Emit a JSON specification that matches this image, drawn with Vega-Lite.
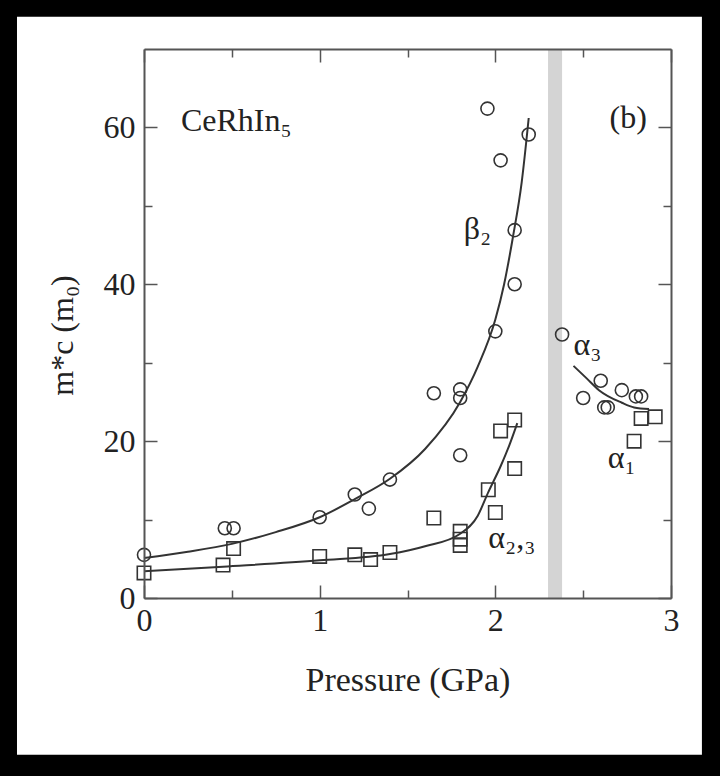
{
  "$schema": "https://vega.github.io/schema/vega-lite/v6.json",
  "width": 527,
  "height": 549,
  "autosize": {"type": "none"},
  "padding": {"left": 144, "top": 49, "right": 49, "bottom": 178},
  "background": "black",
  "config": {
    "view": {"stroke": null},
    "font": "Liberation Serif",
    "axis": {"grid": false, "zindex": 1, "domainColor": "#555", "domainWidth": 2, "tickColor": "#555", "tickWidth": 1.5, "labelFont": "Liberation Serif", "titleFont": "Liberation Serif", "labelColor": "#222", "titleColor": "#222", "titleFontWeight": "normal"}
  },
  "datasets": {
    "circles": [
      {"p": 0, "m": 5.5}, {"p": 0.46, "m": 8.9}, {"p": 0.51, "m": 8.9}, {"p": 1.0, "m": 10.3},
      {"p": 1.2, "m": 13.2}, {"p": 1.28, "m": 11.4}, {"p": 1.4, "m": 15.1}, {"p": 1.65, "m": 26.1},
      {"p": 1.8, "m": 26.6}, {"p": 1.8, "m": 25.5}, {"p": 1.8, "m": 18.2}, {"p": 1.955, "m": 62.4},
      {"p": 2.03, "m": 55.8}, {"p": 2.0, "m": 34.0}, {"p": 2.11, "m": 46.9}, {"p": 2.11, "m": 40.0},
      {"p": 2.19, "m": 59.1}, {"p": 2.38, "m": 33.6}, {"p": 2.5, "m": 25.5}, {"p": 2.6, "m": 27.7},
      {"p": 2.62, "m": 24.3}, {"p": 2.64, "m": 24.3}, {"p": 2.72, "m": 26.5}, {"p": 2.8, "m": 25.7},
      {"p": 2.83, "m": 25.7}
    ],
    "squares": [
      {"p": 0, "m": 3.2}, {"p": 0.45, "m": 4.2}, {"p": 0.51, "m": 6.3}, {"p": 1.0, "m": 5.3},
      {"p": 1.2, "m": 5.5}, {"p": 1.29, "m": 4.9}, {"p": 1.4, "m": 5.8}, {"p": 1.65, "m": 10.2},
      {"p": 1.8, "m": 8.5}, {"p": 1.8, "m": 7.5}, {"p": 1.8, "m": 6.7}, {"p": 1.96, "m": 13.8},
      {"p": 2.0, "m": 10.9}, {"p": 2.03, "m": 21.3}, {"p": 2.11, "m": 22.7}, {"p": 2.11, "m": 16.5},
      {"p": 2.79, "m": 20.0}, {"p": 2.83, "m": 22.9}, {"p": 2.91, "m": 23.1}
    ],
    "curves": [
      {"c": "b2", "p": 0, "m": 5.1}, {"c": "b2", "p": 0.25, "m": 5.9}, {"c": "b2", "p": 0.5, "m": 6.9},
      {"c": "b2", "p": 0.75, "m": 8.4}, {"c": "b2", "p": 1.0, "m": 10.3}, {"c": "b2", "p": 1.2, "m": 12.6},
      {"c": "b2", "p": 1.4, "m": 15.2}, {"c": "b2", "p": 1.6, "m": 19.0}, {"c": "b2", "p": 1.8, "m": 25.0},
      {"c": "b2", "p": 1.9, "m": 29.5}, {"c": "b2", "p": 2.0, "m": 35.5}, {"c": "b2", "p": 2.05, "m": 40.0},
      {"c": "b2", "p": 2.1, "m": 46.0}, {"c": "b2", "p": 2.15, "m": 53.0}, {"c": "b2", "p": 2.19, "m": 61.2},
      {"c": "a23", "p": 0, "m": 3.4}, {"c": "a23", "p": 0.45, "m": 4.0}, {"c": "a23", "p": 1.0, "m": 4.8},
      {"c": "a23", "p": 1.4, "m": 5.6}, {"c": "a23", "p": 1.6, "m": 6.6}, {"c": "a23", "p": 1.8, "m": 8.2},
      {"c": "a23", "p": 1.9, "m": 10.5}, {"c": "a23", "p": 1.96, "m": 13.5}, {"c": "a23", "p": 2.03, "m": 16.8},
      {"c": "a23", "p": 2.08, "m": 19.5}, {"c": "a23", "p": 2.125, "m": 22.3},
      {"c": "a3", "p": 2.445, "m": 29.6}, {"c": "a3", "p": 2.52, "m": 28.0}, {"c": "a3", "p": 2.59, "m": 26.5},
      {"c": "a3", "p": 2.72, "m": 24.9}, {"c": "a3", "p": 2.79, "m": 24.3}, {"c": "a3", "p": 2.875, "m": 24.1}
    ],
    "labels": [
      {"t": "CeRhIn₅", "p": 0.21, "m": 60.8},
      {"t": "(b)", "p": 2.65, "m": 61.2},
      {"t": "β₂", "p": 1.82, "m": 47.0},
      {"t": "α₂,₃", "p": 1.96, "m": 7.7},
      {"t": "α₃", "p": 2.445, "m": 32.3},
      {"t": "α₁", "p": 2.64, "m": 17.9}
    ]
  },
  "resolve": {"axis": {"x": "independent", "y": "independent"}},
  "layer": [
    {
      "data": {"values": [{"x1": -0.723, "x2": 3.176, "y1": -20.0, "y2": 74.1}]},
      "mark": {"type": "rect", "fill": "white"},
      "encoding": {
        "x": {"field": "x1", "type": "quantitative", "scale": {"domain": [0, 3], "nice": false, "zero": false},
          "axis": {"orient": "bottom", "zindex": 2, "values": [0, 1, 2, 3], "ticks": false, "labelPadding": 7, "labelFontSize": 32, "labelFlush": false,
            "title": "Pressure (GPa)", "titleFontSize": 34, "titleY": 82, "titleBaseline": "middle"}},
        "x2": {"field": "x2"},
        "y": {"field": "y1", "type": "quantitative", "scale": {"domain": [0, 70], "nice": false, "zero": false},
          "axis": {"orient": "left", "zindex": 2, "values": [0, 20, 40, 60], "ticks": false, "labelPadding": 9, "labelFontSize": 32,
            "labelFlush": false, "title": "m*c (m₀)", "titleFontSize": 32, "titleX": -82, "titleY": 286, "titleAngle": -90, "titleAlign": "center", "titleBaseline": "middle"}},
        "y2": {"field": "y2"}
      }
    },
    {
      "data": {"values": [{"x1": 2.3, "x2": 2.38, "y1": 0, "y2": 70}]},
      "mark": {"type": "rect", "fill": "#d4d4d4"},
      "encoding": {
        "x": {"field": "x1", "type": "quantitative", "axis": {"orient": "top", "zindex": 2, "values": [0, 1, 2, 3], "labels": false, "tickSize": -13, "title": null}},
        "x2": {"field": "x2"},
        "y": {"field": "y1", "type": "quantitative", "axis": {"orient": "right", "zindex": 2, "values": [0, 20, 40, 60], "labels": false, "tickSize": -13, "title": null}},
        "y2": {"field": "y2"}
      }
    },
    {
      "data": {"name": "curves"},
      "transform": [{"filter": "datum.c === 'b2'"}],
      "mark": {"type": "line", "color": "#333", "strokeWidth": 2, "interpolate": "monotone"},
      "encoding": {
        "x": {"field": "p", "type": "quantitative", "axis": {"orient": "bottom", "zindex": 2, "values": [0, 1, 2, 3], "labels": false, "domain": false, "tickSize": -13, "title": null}},
        "y": {"field": "m", "type": "quantitative", "axis": {"orient": "left", "zindex": 2, "values": [0, 20, 40, 60], "labels": false, "domain": false, "tickSize": -13, "title": null}}
      }
    },
    {
      "data": {"name": "curves"},
      "transform": [{"filter": "datum.c === 'a23'"}],
      "mark": {"type": "line", "color": "#333", "strokeWidth": 2, "interpolate": "monotone"},
      "encoding": {
        "x": {"field": "p", "type": "quantitative", "axis": {"orient": "bottom", "zindex": 2, "values": [0.5, 1.5, 2.5], "labels": false, "domain": false, "tickSize": -8, "title": null}},
        "y": {"field": "m", "type": "quantitative", "axis": {"orient": "left", "zindex": 2, "values": [10, 30, 50], "labels": false, "domain": false, "tickSize": -8, "title": null}}
      }
    },
    {
      "data": {"name": "curves"},
      "transform": [{"filter": "datum.c === 'a3'"}],
      "mark": {"type": "line", "color": "#333", "strokeWidth": 2, "interpolate": "monotone"},
      "encoding": {
        "x": {"field": "p", "type": "quantitative", "axis": {"orient": "top", "zindex": 2, "values": [0.5, 1.5, 2.5], "labels": false, "domain": false, "tickSize": -8, "title": null}},
        "y": {"field": "m", "type": "quantitative", "axis": {"orient": "right", "zindex": 2, "values": [10, 30, 50], "labels": false, "domain": false, "tickSize": -8, "title": null}}
      }
    },
    {
      "data": {"name": "circles"},
      "mark": {"type": "point", "shape": "circle", "filled": false, "size": 170, "stroke": "#333", "strokeWidth": 1.6, "opacity": 1},
      "encoding": {
        "x": {"field": "p", "type": "quantitative", "axis": null},
        "y": {"field": "m", "type": "quantitative", "axis": null}
      }
    },
    {
      "data": {"name": "squares"},
      "mark": {"type": "point", "shape": "square", "filled": false, "size": 180, "stroke": "#333", "strokeWidth": 1.6, "opacity": 1},
      "encoding": {
        "x": {"field": "p", "type": "quantitative", "axis": null},
        "y": {"field": "m", "type": "quantitative", "axis": null}
      }
    },
    {
      "data": {"name": "labels"},
      "mark": {"type": "text", "font": "Liberation Serif", "fontSize": 32, "color": "#222", "align": "left", "baseline": "middle"},
      "encoding": {
        "x": {"field": "p", "type": "quantitative", "axis": null},
        "y": {"field": "m", "type": "quantitative", "axis": null},
        "text": {"field": "t"}
      }
    }
  ]
}
